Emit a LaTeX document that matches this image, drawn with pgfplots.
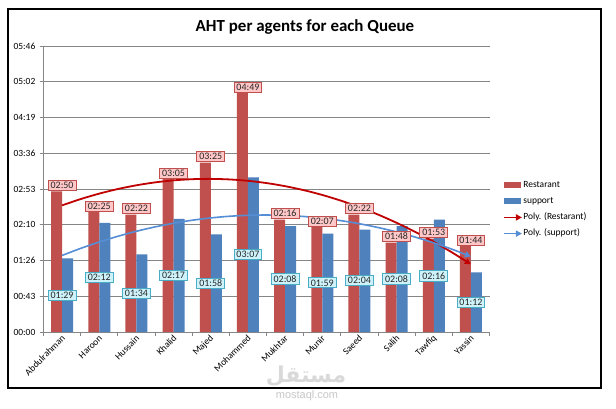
\documentclass[border=0pt]{standalone}
\usepackage{pgfplots}
\pgfplotsset{compat=1.18}
\usepackage{fontspec}
\setmainfont{Carlito}
\newfontfamily\arabicfont[Script=Arabic]{DejaVu Sans}
\newfontfamily\wmfont{Liberation Sans}
\TeXXeTstate=1
\usetikzlibrary{arrows.meta}
\definecolor{barred}{RGB}{192,80,77}
\definecolor{barblue}{RGB}{79,129,189}
\definecolor{trendred}{RGB}{192,0,0}
\definecolor{trendblue}{RGB}{85,142,213}
\definecolor{gridgray}{RGB}{134,134,134}
\definecolor{pinkfill}{RGB}{255,199,199}
\definecolor{pinkdraw}{RGB}{192,80,77}
\definecolor{cyanfill}{RGB}{205,242,250}
\definecolor{cyandraw}{RGB}{75,172,198}
\begin{document}
\begin{tikzpicture}
\path[use as bounding box, fill=white] (0,0) rectangle (616bp,409bp);
\begin{axis}[
  at={(43.5bp,77bp)}, anchor=south west,
  scale only axis, width=446bp, height=286bp,
  xmin=0.5, xmax=12.5, ymin=0, ymax=346,
  enlargelimits=false, clip=false,
  axis x line*=bottom, axis y line*=left,
  axis line style={gridgray, line width=0.75bp, -},
  ymajorgrids, grid style={gridgray, line width=0.75bp},
  tick align=outside,
  major tick length=4bp, minor tick length=4bp,
  xtick={1,...,12},
  xticklabels={Abdulrahman,Haroon,Hussain,Khalid,Majed,Mohammed,Mukhtar,Munir,Saeed,Salih,Tawfiq,Yassin},
  minor xtick={0.5,1.5,...,12.5},
  major x tick style={draw=none},
  minor x tick style={gridgray, line width=0.75bp},
  y tick style={gridgray, line width=0.75bp},
  ytick={0,43.25,86.5,129.75,173,216.25,259.5,302.75,346},
  yticklabels={00:00,00:43,01:26,02:10,02:53,03:36,04:19,05:02,05:46},
  tick label style={font=\fontsize{9.5}{10.5}\selectfont, text=black},
  xticklabel style={rotate=45, anchor=east, inner sep=0bp, xshift=0.5bp, yshift=-1.5bp},
  yticklabel style={inner sep=0bp, xshift=-4bp},
  legend style={at={(1.03,0.53)}, anchor=north west, draw=none, fill=none,
    font=\fontsize{9.5}{10.5}\selectfont, inner sep=0pt, row sep=7.4bp,
    nodes={inner sep=0.5bp, text height=6.2bp, text depth=1.6bp}},
  legend cell align=left,
]
\addplot[ybar, bar width=11bp, bar shift=-5.5bp, fill=barred, draw=none,
  nodes near coords, point meta=explicit symbolic,
  nodes near coords style={anchor=south, yshift=0.5bp, fill=pinkfill, draw=pinkdraw,
    line width=0.8bp, font=\fontsize{10}{11}\selectfont, text=black!85,
    inner xsep=2.5bp, inner ysep=1.8bp},
  legend image code/.code={\fill[barred] (0bp,-3bp) rectangle (17bp,3bp);}]
coordinates {(1,170)[02:50] (2,145)[02:25] (3,142)[02:22] (4,185)[03:05] (5,205)[03:25] (6,289)[04:49]
 (7,136)[02:16] (8,127)[02:07] (9,142)[02:22] (10,108)[01:48] (11,113)[01:53] (12,104)[01:44]};
\addlegendentry{Restarant}
\addplot[ybar, bar width=11bp, bar shift=5.5bp, fill=barblue, draw=none,
  nodes near coords, point meta=explicit symbolic,
  visualization depends on={rawy \as \rawy},
  nodes near coords style={anchor=center, yshift={-0.4133*\rawy*1bp}, fill=cyanfill, draw=cyandraw,
    line width=0.8bp, font=\fontsize{10}{11}\selectfont, text=black!85,
    inner xsep=2.5bp, inner ysep=1.8bp},
  legend image code/.code={\fill[barblue] (0bp,-3bp) rectangle (17bp,3bp);}]
coordinates {(1,89)[01:29] (2,132)[02:12] (3,94)[01:34] (4,137)[02:17] (5,118)[01:58] (6,187)[03:07]
 (7,128)[02:08] (8,119)[01:59] (9,124)[02:04] (10,128)[02:08] (11,136)[02:16] (12,72)[01:12]};
\addlegendentry{support}
\addplot[trendred, line width=1.8bp, smooth, mark=none, -{Triangle[length=6bp,width=6bp]},
  legend image code/.code={\draw[trendred, line width=1.8bp, -{Triangle[length=6bp,width=6bp]}] (0bp,0bp) -- (18bp,0bp);}]
coordinates {(1,153.19) (1.5,160.82) (2,167.41) (2.5,172.98) (3,177.50) (3.5,180.99) (4,183.45) (4.5,184.87)
 (5,185.24) (5.5,184.59) (6,182.90) (6.5,180.18) (7,176.42) (7.5,171.63) (8,165.80) (8.5,158.93)
 (9,151.03) (9.5,142.09) (10,132.12) (10.5,121.12) (11,109.07) (11.5,96.00) (12,81.88)};
\addlegendentry{Poly. (Restarant)}
\addplot[trendblue, line width=1.6bp, smooth, mark=none, -{Triangle[length=6bp,width=6bp]},
  legend image code/.code={\draw[trendblue, line width=1.6bp, -{Triangle[length=6bp,width=6bp]}] (0bp,0bp) -- (18bp,0bp);}]
coordinates {(1,92.62) (1.5,101.16) (2,108.89) (2.5,115.79) (3,121.88) (3.5,127.14) (4,131.58) (4.5,135.21)
 (5,138.01) (5.5,140.00) (6,141.17) (6.5,141.52) (7,141.05) (7.5,139.76) (8,137.65) (8.5,134.73)
 (9,130.98) (9.5,126.42) (10,121.04) (10.5,114.83) (11,107.82) (11.5,99.98) (12,91.32)};
\addlegendentry{Poly. (support)}
\end{axis}
\node[font=\bfseries\fontsize{17}{20}\selectfont] at (305bp,382bp) {AHT per agents for each Queue};
\draw[black, line width=1.3bp] (8bp,21bp) rectangle (601bp,400bp);
\node[text=black!15, font=\arabicfont\bfseries\fontsize{22}{24}\selectfont] at (306bp,33bp) {\beginR مستقل\endR};
\node[text=black!22, font=\wmfont\fontsize{11}{12}\selectfont] at (307bp,13bp) {mostaql.com};
\end{tikzpicture}
\end{document}
